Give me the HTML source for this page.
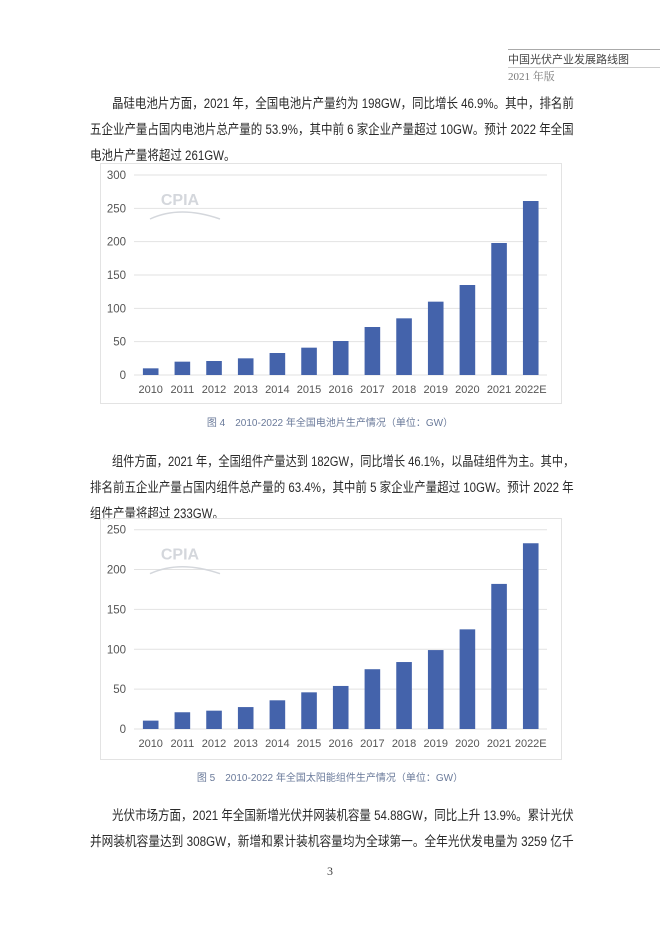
<!DOCTYPE html>
<html><head><meta charset="utf-8">
<style>
body{margin:0;background:#fff;}
#page{position:relative;width:660px;height:934px;overflow:hidden;background:#fff;font-family:"Liberation Sans","Noto Sans CJK SC",sans-serif;color:#333;}
.hdr{position:absolute;left:508px;font-size:11px;}
.ln{position:absolute;left:90px;font-size:13.5px;height:20px;line-height:20px;white-space:nowrap;color:#2a2a2a;transform-origin:0 50%;}
.cap{position:absolute;left:0;width:660px;text-align:center;font-size:10px;color:#6a7a9a;}
.box{position:absolute;left:100px;width:460px;border:1px solid #e3e3e3;}
svg text{font-family:"Liberation Sans",sans-serif;}
</style></head><body>
<div id="page">
<div style="position:absolute;left:508px;top:49px;width:152px;height:1px;background:#aaa"></div>
<div class="hdr" style="top:51px;color:#444">中国光伏产业发展路线图</div>
<div style="position:absolute;left:508px;top:67px;width:152px;height:1px;background:#ccc"></div>
<div class="hdr" style="top:68px;color:#777;font-family:'Liberation Serif','Noto Serif CJK SC',serif">2021 年版</div>

<div class="ln" data-w="462" style="top:94px;left:112px">晶硅电池片方面，2021 年，全国电池片产量约为 198GW，同比增长 46.9%。其中，排名前</div>
<div class="ln" data-w="484" style="top:120px">五企业产量占国内电池片总产量的 53.9%，其中前 6 家企业产量超过 10GW。预计 2022 年全国</div>
<div class="ln last" style="top:146px">电池片产量将超过 261GW。</div>

<div class="box" style="top:163px;height:239px"></div>
<svg id="c1" style="position:absolute;left:0;top:0" width="660" height="934"></svg>
<div class="cap" style="top:414px">图 4　2010-2022 年全国电池片生产情况（单位：GW）</div>

<div class="ln" data-w="462" style="top:452px;left:112px">组件方面，2021 年，全国组件产量达到 182GW，同比增长 46.1%，以晶硅组件为主。其中，</div>
<div class="ln" data-w="484" style="top:478px">排名前五企业产量占国内组件总产量的 63.4%，其中前 5 家企业产量超过 10GW。预计 2022 年</div>
<div class="ln last" style="top:504px">组件产量将超过 233GW。</div>

<div class="box" style="top:518px;height:240px"></div>
<div class="cap" style="top:769px">图 5　2010-2022 年全国太阳能组件生产情况（单位：GW）</div>

<div class="ln" data-w="462" style="top:806px;left:112px">光伏市场方面，2021 年全国新增光伏并网装机容量 54.88GW，同比上升 13.9%。累计光伏</div>
<div class="ln" data-w="484" style="top:832px">并网装机容量达到 308GW，新增和累计装机容量均为全球第一。全年光伏发电量为 3259 亿千</div>
<div style="position:absolute;left:0;width:660px;top:864px;text-align:center;font-size:12px;color:#444;font-family:'Liberation Serif',serif">3</div>
</div>
<script>
const categories = ["2010","2011","2012","2013","2014","2015","2016","2017","2018","2019","2020","2021","2022E"];
const cellValues = [10,20,21,25,33,41,51,72,85,110,135,198,261];
const moduleValues = [10.5,21,23,27.5,36,46,54,75,84,99,125,182,233];
const cellTicks = [0,50,100,150,200,250,300];
const moduleTicks = [0,50,100,150,200,250];
const NS="http://www.w3.org/2000/svg";
const svg=document.getElementById('c1');
function mk(t,a){const e=document.createElementNS(NS,t);for(const k in a)e.setAttribute(k,a[k]);return e;}
function drawChart(prefix,values,ticks,y0,y1){
  const max=ticks[ticks.length-1];
  const yS=v=>y0-(v/max)*(y0-y1);
  const step=31.67, x0=150.7;
  const xS=i=>x0+i*step;
  ticks.forEach(t=>{
    const l=mk('line',{x1:134,x2:547,y1:yS(t),y2:yS(t),stroke:'#e2e2e2','stroke-width':1});
    
    
    svg.appendChild(l);
    const tx=mk('text',{x:126,y:yS(t)+4,'text-anchor':'end','font-size':11.5,fill:'#555'});
    tx.textContent=t;
    
    
    svg.appendChild(tx);
  });
  values.forEach((v,i)=>{
    const r=mk('rect',{x:xS(i)-7.8,y:yS(v),width:15.6,height:y0-yS(v),fill:'#4463ab'});
    
    
    svg.appendChild(r);
    const tx=mk('text',{x:xS(i),y:y0+18,'text-anchor':'middle','font-size':11,fill:'#555'});
    tx.textContent=categories[i];
    
    
    svg.appendChild(tx);
  });
  const wm=mk('text',{x:180,y:y1+30,'text-anchor':'middle','font-size':16,'font-weight':'bold',fill:'#d4d7dc'});
  wm.textContent='CPIA';
  
  
  svg.appendChild(wm);
  const arc=mk('path',{d:`M150 ${y1+44} Q180 ${y1+30} 220 ${y1+44}`,fill:'none',stroke:'#d4d7dc','stroke-width':1.5});
  
  
  svg.appendChild(arc);
}
drawChart('cell',cellValues,cellTicks,375,175);
drawChart('module',moduleValues,moduleTicks,729,529.7);
// horizontally scale each full line to its target width
let lastScale=1;
document.querySelectorAll('.ln').forEach(el=>{
  if(el.classList.contains('last')){
    el.style.transform='scaleX('+lastScale+')';
    return;
  }
  const target=parseFloat(el.getAttribute('data-w'));
  const w=el.offsetWidth;
  const s=target/w;
  el.style.transform='scaleX('+s+')';
  lastScale=Math.min(1,s);
});
</script>
</body></html>
